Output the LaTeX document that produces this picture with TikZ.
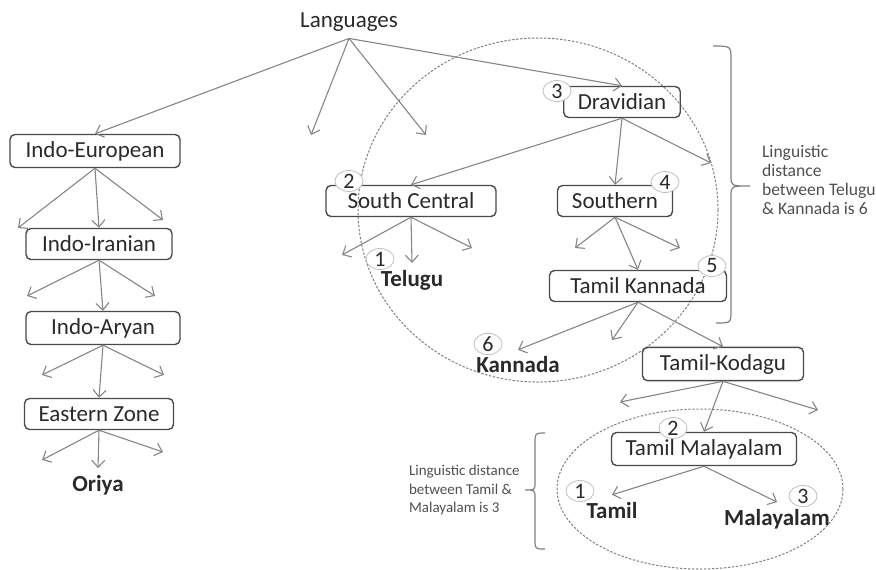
\documentclass[tikz,border=0pt]{standalone}
\usepackage{fontspec}
\setmainfont{Carlito}
\usepackage{tikz}
\usetikzlibrary{arrows.meta,shapes.geometric}
\definecolor{linegray}{HTML}{858585}
\definecolor{boxgray}{HTML}{4A4A4A}
\definecolor{textgray}{HTML}{2A2A2A}
\definecolor{notegray}{HTML}{505050}
\tikzset{
  box/.style={draw=boxgray,line width=0.7pt,rounded corners=2.5pt,text=textgray,
    inner xsep=7pt,minimum height=15.5pt,font=\fontsize{11.5}{13}\selectfont},
  leaf/.style={text=textgray,font=\fontsize{11.5}{13}\selectfont\bfseries},
  num/.style={ellipse,draw=gray!50,fill=white,inner sep=0pt,minimum width=14pt,
    minimum height=10.5pt,text=textgray,font=\fontsize{11}{13}\selectfont},
  arr/.style={draw=linegray,line width=0.55pt,-{Straight Barb[length=3.5pt,width=6.5pt]}},
  zone/.style={draw=gray,line width=0.5pt,dash pattern=on 1.2pt off 0.8pt},
  bracket/.style={draw=gray,line width=0.6pt},
}

\begin{document}
\begin{tikzpicture}[x=0.5pt,y=-0.5pt]
    \useasboundingbox (0,0) rectangle (876,569);
    % dashed groups
    \draw[zone] (538,210) ellipse [x radius=90pt,y radius=86pt];
    \draw[zone] (700,489) ellipse [x radius=71.5pt,y radius=40pt];
    % nodes
    \node[text=textgray,font=\fontsize{11.5}{13}\selectfont] (lang) at (349,22) {Languages};
    \node[box,minimum width=85pt] (ie) at (95,151) {Indo-European};
    \node[box,minimum width=73pt] (ii) at (99,244) {Indo-Iranian};
    \node[box,minimum width=77pt] (ia) at (103,328) {Indo-Aryan};
    \node[box,minimum width=73pt] (ez) at (99,414) {Eastern Zone};
    \node[leaf] (oriya) at (98,485) {Oriya};
    \node[box,minimum width=57.5pt] (drav) at (622,102) {Dravidian};
    \node[box,minimum width=85pt] (sc) at (411,201) {South Central};
    \node[box,minimum width=57.5pt] (south) at (615,201) {Southern};
    \node[leaf] (telugu) at (412,280) {Telugu};
    \node[box,minimum width=88.5pt] (tk) at (638,286) {Tamil Kannada};
    \node[leaf] (kan) at (518,365) {Kannada};
    \node[box,minimum width=80.5pt] (tkod) at (723,364) {Tamil-Kodagu};
    \node[box,minimum width=92.5pt] (tm) at (704,449) {Tamil Malayalam};
    \node[leaf] (tamil) at (612,510) {Tamil};
    \node[leaf] (mal) at (777,519) {Malayalam};
    % loose arrow ends
    \coordinate (l1) at (311,135);
    \coordinate (l2) at (426,135);
    \coordinate (ie1) at (18,228);
    \coordinate (ie2) at (163,220);
    \coordinate (ii1) at (27,296);
    \coordinate (ii2) at (155,296);
    \coordinate (ia1) at (42,375);
    \coordinate (ia2) at (164,375);
    \coordinate (ez1) at (42,460);
    \coordinate (ez2) at (163,452);
    \coordinate (dr1) at (711,163);
    \coordinate (sc1) at (342,255);
    \coordinate (sc2) at (472,248);
    \coordinate (so1) at (575,248);
    \coordinate (so2) at (680,248);
    \coordinate (tk1) at (612,340);
    \coordinate (tko1) at (620,402);
    \coordinate (tko2) at (818,410);
    % arrows
    \draw[arr] (lang.south) -- (ie.north);
    \draw[arr] (lang.south) -- (l1);
    \draw[arr] (lang.south) -- (l2);
    \draw[arr] (lang.south) -- (drav.north);
    \draw[arr] (ie.south) -- (ie1);
    \draw[arr] (ie.south) -- (ii.north);
    \draw[arr] (ie.south) -- (ie2);
    \draw[arr] (ii.south) -- (ii1);
    \draw[arr] (ii.south) -- (ia.north);
    \draw[arr] (ii.south) -- (ii2);
    \draw[arr] (ia.south) -- (ia1);
    \draw[arr] (ia.south) -- (ez.north);
    \draw[arr] (ia.south) -- (ia2);
    \draw[arr] (ez.south) -- (ez1);
    \draw[arr] (ez.south) -- (oriya.north);
    \draw[arr] (ez.south) -- (ez2);
    \draw[arr] (drav.south) -- (sc.north);
    \draw[arr] (drav.south) -- (south.north);
    \draw[arr] (drav.south) -- (dr1);
    \draw[arr] (sc.south) -- (sc1);
    \draw[arr] (sc.south) -- (telugu.north);
    \draw[arr] (sc.south) -- (sc2);
    \draw[arr] (south.south) -- (so1);
    \draw[arr] (south.south) -- (tk.north);
    \draw[arr] (south.south) -- (so2);
    \draw[arr] (tk.south) -- (kan.north);
    \draw[arr] (tk.south) -- (tk1);
    \draw[arr] (tk.south) -- (tkod.north);
    \draw[arr] (tkod.south) -- (tko1);
    \draw[arr] (tkod.south) -- (tm.north);
    \draw[arr] (tkod.south) -- (tko2);
    \draw[arr] (tm.south) -- (tamil.north);
    \draw[arr] (tm.south) -- (mal.north);
    % distance counts
    \node[num] (d3) at (557,91) {3};
    \node[num] (d2) at (349,181) {2};
    \node[num] (d4) at (665,182) {4};
    \node[num] (d1) at (380,259) {1};
    \node[num] (d5) at (712,266) {5};
    \node[num] (d6) at (488,344) {6};
    \node[num] (m2) at (673,428) {2};
    \node[num] (m1) at (580,491) {1};
    \node[num] (m3) at (803,496) {3};
    % brackets and notes
    \draw[bracket] (713,46) .. controls (731,46) .. (731,60) -- (731,176)
      .. controls (731,186) .. (750,186) .. controls (731,186) .. (731,196)
      -- (731,310) .. controls (731,323) .. (716,323);
    \node[anchor=west,align=left,text=notegray,font=\fontsize{8.8}{9.4}\selectfont]
      (note1) at (755,180) {Linguistic\\distance\\between Telugu\\\& Kannada is 6};
    \draw[bracket] (545,433) .. controls (535,433) .. (535,443) -- (535,482)
      .. controls (535,490) .. (525,490) .. controls (535,490) .. (535,498)
      -- (535,539) .. controls (535,549) .. (545,549);
    \node[anchor=west,align=left,text=notegray,font=\fontsize{7.5}{9.2}\selectfont]
      (note2) at (402,490) {Linguistic distance\\between Tamil \&\\Malayalam is 3};
\end{tikzpicture}
\end{document}
